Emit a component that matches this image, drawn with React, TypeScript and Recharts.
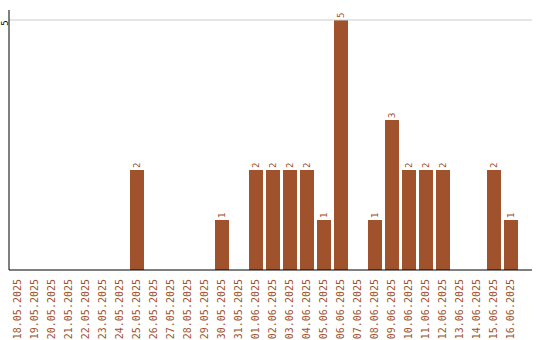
import { BarChart, Bar, XAxis, YAxis, ReferenceLine, LabelList } from 'recharts';

// Daily counts, 18.05.2025 – 16.06.2025
const DATES = [
  '18.05.2025', '19.05.2025', '20.05.2025', '21.05.2025', '22.05.2025',
  '23.05.2025', '24.05.2025', '25.05.2025', '26.05.2025', '27.05.2025',
  '28.05.2025', '29.05.2025', '30.05.2025', '31.05.2025', '01.06.2025',
  '02.06.2025', '03.06.2025', '04.06.2025', '05.06.2025', '06.06.2025',
  '07.06.2025', '08.06.2025', '09.06.2025', '10.06.2025', '11.06.2025',
  '12.06.2025', '13.06.2025', '14.06.2025', '15.06.2025', '16.06.2025',
];
const COUNTS = [
  0, 0, 0, 0, 0,
  0, 0, 2, 0, 0,
  0, 0, 1, 0, 2,
  2, 2, 2, 1, 5,
  0, 1, 3, 2, 2,
  2, 0, 0, 2, 1,
];
const Y_TICKS = [5];

const BAR = '#a0522d'; // sienna
const FONT = '"DejaVu Sans Mono", monospace';

const data = DATES.map((d, i) => ({ date: d, count: COUNTS[i] }));

function DateTick({ x, y, payload }: any) {
  const ty = y + 7;
  return (
    <text
      x={x}
      y={ty}
      transform={`rotate(-90, ${x}, ${ty})`}
      textAnchor="end"
      dominantBaseline="central"
      fill={BAR}
      fontSize={10}
      fontFamily={FONT}
    >
      {payload.value}
    </text>
  );
}

function CountTick({ x, y, payload }: any) {
  const tx = x - 2;
  const ty = y + 3;
  return (
    <text
      x={tx}
      y={ty}
      transform={`rotate(-90, ${tx}, ${ty})`}
      textAnchor="middle"
      dominantBaseline="central"
      fill="#000"
      fontSize={9}
      fontFamily={FONT}
    >
      {payload.value}
    </text>
  );
}

function ValueLabel({ x, y, width, value }: any) {
  if (!value) return null;
  const cx = x + width / 2;
  const ty = y - 2;
  return (
    <text
      x={cx}
      y={ty}
      transform={`rotate(-90, ${cx}, ${ty})`}
      textAnchor="start"
      dominantBaseline="central"
      fill={BAR}
      fontSize={9}
      fontFamily={FONT}
    >
      {value}
    </text>
  );
}

export default function App() {
  return (
    <div style={{ position: 'absolute', left: 0, top: 0, background: '#fff' }}>
      <BarChart
        width={540}
        height={340}
        data={data}
        margin={{ top: 10, right: 8, left: 0, bottom: 0 }}
      >
        {Y_TICKS.map((t) => (
          <ReferenceLine key={t} y={t} stroke="#cccccc" />
        ))}
        <XAxis
          dataKey="date"
          interval={0}
          height={70}
          tickLine={false}
          tickSize={0}
          axisLine={{ stroke: '#000' }}
          padding={{ left: 0, right: 13 }}
          tick={<DateTick />}
        />
        <YAxis
          width={9}
          domain={[0, 5.2]}
          ticks={Y_TICKS}
          tickLine={false}
          tickSize={0}
          axisLine={{ stroke: '#000' }}
          tick={<CountTick />}
        />
        <Bar dataKey="count" fill={BAR} barSize={14} isAnimationActive={false}>
          <LabelList dataKey="count" content={<ValueLabel />} />
        </Bar>
      </BarChart>
    </div>
  );
}
